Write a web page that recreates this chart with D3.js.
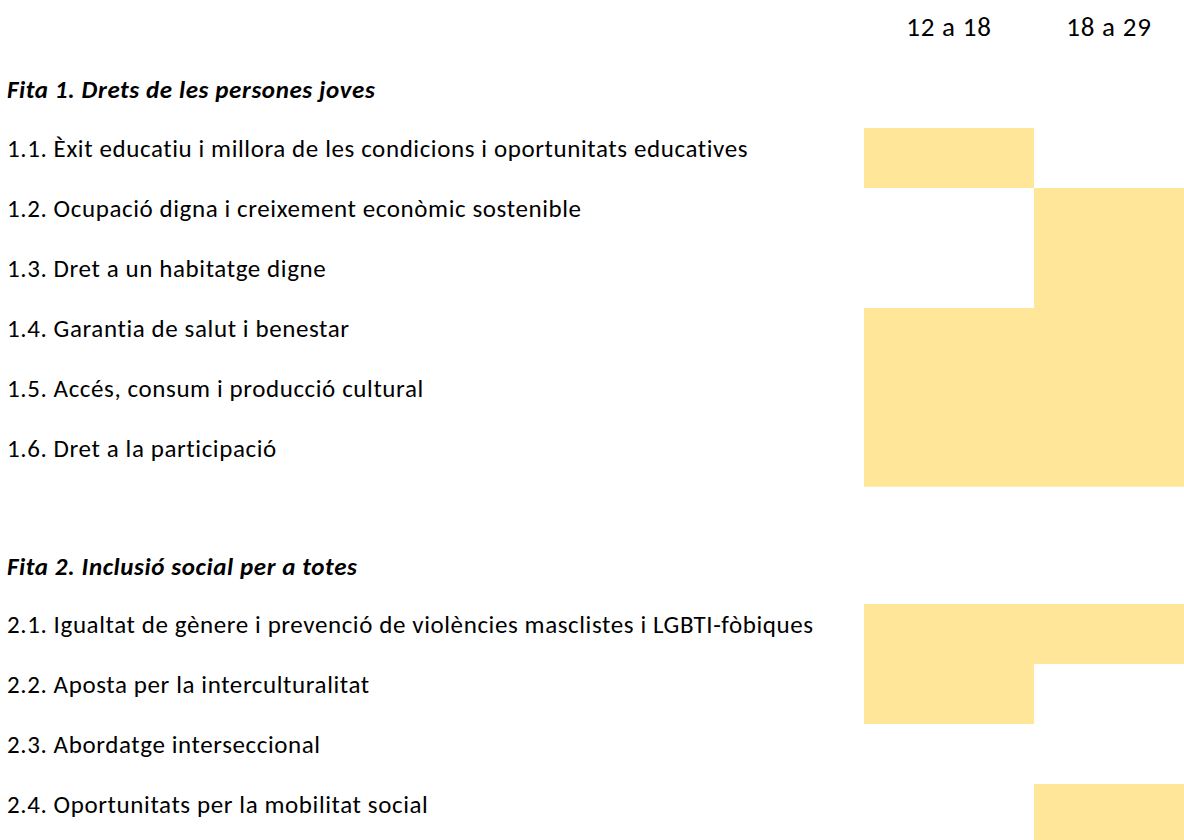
<!DOCTYPE html>
<html lang="ca">
	<head>
		<meta charset="utf-8">
		<title>Fites</title>
		<script src="https://cdn.jsdelivr.net/npm/d3@7"></script>
		<style type="text/css">
			body { margin: 0; background: #fff; }
			text { font-family: Carlito, Calibri, Lato, sans-serif; fill: #000; }
		</style>
	</head>
	<body>
		<script type="text/javascript">

			// age groups (columns)
			var columns = ["12 a 18", "18 a 29"]

			// goals and their lines
			var goals = ["Fita 1. Drets de les persones joves", "Fita 2. Inclusió social per a totes"]

			var items1 = [
				"1.1. Èxit educatiu i millora de les condicions i oportunitats educatives",
				"1.2. Ocupació digna i creixement econòmic sostenible",
				"1.3. Dret a un habitatge digne",
				"1.4. Garantia de salut i benestar",
				"1.5. Accés, consum i producció cultural",
				"1.6. Dret a la participació"
			]
			var items2 = [
				"2.1. Igualtat de gènere i prevenció de violències masclistes i LGBTI-fòbiques",
				"2.2. Aposta per la interculturalitat",
				"2.3. Abordatge interseccional",
				"2.4. Oportunitats per la mobilitat social"
			]

			// 1 = the line applies to that age group
			var marks1218 = [1, 0, 0, 1, 1, 1, 1, 1, 0, 0]
			var marks1829 = [0, 1, 1, 1, 1, 1, 1, 0, 0, 1]

			var w = 1184, h = 840

			// build row list: slot index -> what goes there
			var rows = []
			rows.push({ slot: 1, text: goals[0], goal: true })
			items1.forEach(function(t, i) { rows.push({ slot: 2 + i, text: t, k: i }) })
			rows.push({ slot: 9, text: goals[1], goal: true })
			items2.forEach(function(t, i) { rows.push({ slot: 10 + i, text: t, k: items1.length + i }) })

			var cells = []
			rows.forEach(function(r) {
				if (r.goal) return
				if (marks1218[r.k]) cells.push({ slot: r.slot, col: columns[0] })
				if (marks1829[r.k]) cells.push({ slot: r.slot, col: columns[1] })
			})

			var svg = d3.select("body").append("svg").attr("width", w).attr("height", h)

			var yscale = d3.scaleLinear()
				.domain([0, 7, 10, 13])
				.range([8, 428, 604, 784])

			var xleft = d3.scaleOrdinal().domain(columns).range([864, 1034])
			var xright = d3.scaleOrdinal().domain(columns).range([1034, 1184])

			svg.selectAll("rect")
			.data(cells)
			.enter()
			.append("rect")
			.attr("x", function(d) { return xleft(d.col) })
			.attr("y", function(d) { return yscale(d.slot) })
			.attr("width", function(d) { return xright(d.col) - xleft(d.col) })
			.attr("height", function(d) { return yscale(d.slot + 1) - yscale(d.slot) })
			.attr("fill", "#ffe699")

			// column headers
			svg.selectAll(".head")
			.data(columns)
			.enter()
			.append("text")
			.attr("class", "head")
			.attr("x", function(d) { return (xleft(d) + xright(d)) / 2 })
			.attr("y", yscale(0) + 19)
			.attr("dy", "0.35em")
			.attr("text-anchor", "middle")
			.attr("font-size", "27px")
			.style("letter-spacing", "0.8px")
			.text(function(d) { return d })

			// row labels
			svg.selectAll(".lab")
			.data(rows)
			.enter()
			.append("text")
			.attr("class", "lab")
			.attr("x", 7)
			.attr("y", function(d) { return yscale(d.slot) + (d.goal ? 21 : 20) })
			.attr("dy", "0.35em")
			.attr("font-size", "25px")
			.style("letter-spacing", "0.6px")
			.attr("font-weight", function(d) { return d.goal ? "bold" : "normal" })
			.attr("font-style", function(d) { return d.goal ? "italic" : "normal" })
			.text(function(d) { return d.text })

		</script>
	</body>
</html>
